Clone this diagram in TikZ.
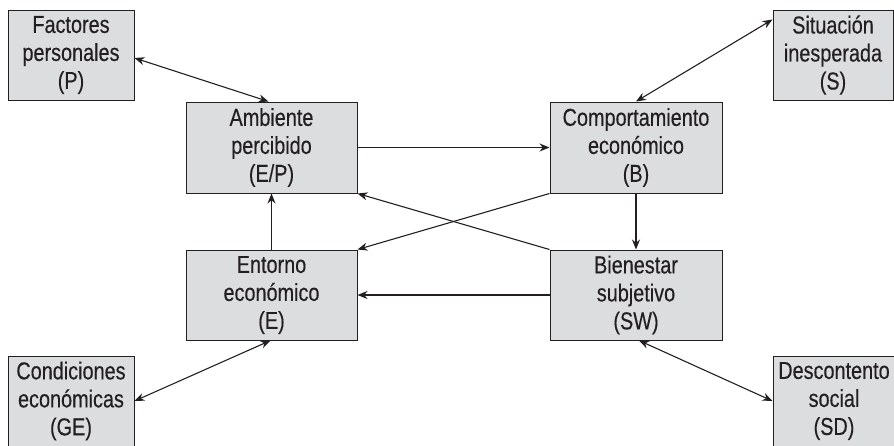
\documentclass[tikz,border=0pt]{standalone}
\usepackage{fontspec}
\setmainfont{Liberation Sans}[FakeStretch=0.81,FakeBold=0.3]
\usetikzlibrary{arrows.meta}
\definecolor{boxfill}{HTML}{DCDDDF}
\definecolor{ink}{HTML}{231F20}
\tikzset{
  box/.style={draw=ink, line width=1pt, fill=boxfill, inner sep=0pt, align=center,
    font=\fontsize{24.5}{28}\selectfont, text=ink, minimum height=90pt},
  wbox/.style={box, minimum width=171pt},
  sbox/.style={box, minimum width=126pt},
  conn/.style={draw=ink, line width=1.1pt, -{Stealth[length=10pt,width=8pt]}},
  bconn/.style={draw=ink, line width=1.1pt, {Stealth[length=10pt,width=8pt]}-{Stealth[length=10pt,width=8pt]}}
}
\begin{document}
\begin{tikzpicture}[x=1pt,y=-1pt]
\useasboundingbox (0,0) rectangle (894,445);
\node[sbox] (P) at (71,55) {Factores\\personales\\(P)};
\node[sbox, minimum width=120pt] (S) at (833,55) {Situación\\inesperada\\(S)};
\node[wbox, minimum height=91pt] (EP) at (271.5,147.5) {Ambiente\\percibido\\(E/P)};
\node[wbox, minimum width=172pt, minimum height=91pt] (B) at (636,147.5) {Comportamiento\\económico\\(B)};
\node[wbox] (E) at (271.5,295) {Entorno\\económico\\(E)};
\node[wbox, minimum width=172pt] (SW) at (636,295) {Bienestar\\subjetivo\\(SW)};
\node[sbox] (GE) at (71,401) {Condiciones\\económicas\\(GE)};
\node[sbox, minimum width=122pt] (SD) at (834,401) {Descontento\\social\\(SD)};

\draw[bconn] ([yshift=-3pt]P.east) -- ([xshift=-3pt]EP.north);
\draw[conn] (EP.east) -- (B.west);
\draw[bconn] (B.north) -- ([yshift=-10pt]S.north west);
\draw[conn] (B.south) -- (SW.north);
\draw[conn] (B.south west) -- (E.north east);
\draw[conn] (SW.north west) -- (EP.south east);
\draw[conn] (SW.west) -- (E.east);
\draw[conn] (E.north) -- (EP.south);
\draw[bconn] (GE.east) -- ([xshift=-1pt]E.south);
\draw[bconn] ([xshift=3pt]SW.south) -- (SD.west);
\end{tikzpicture}
\end{document}
